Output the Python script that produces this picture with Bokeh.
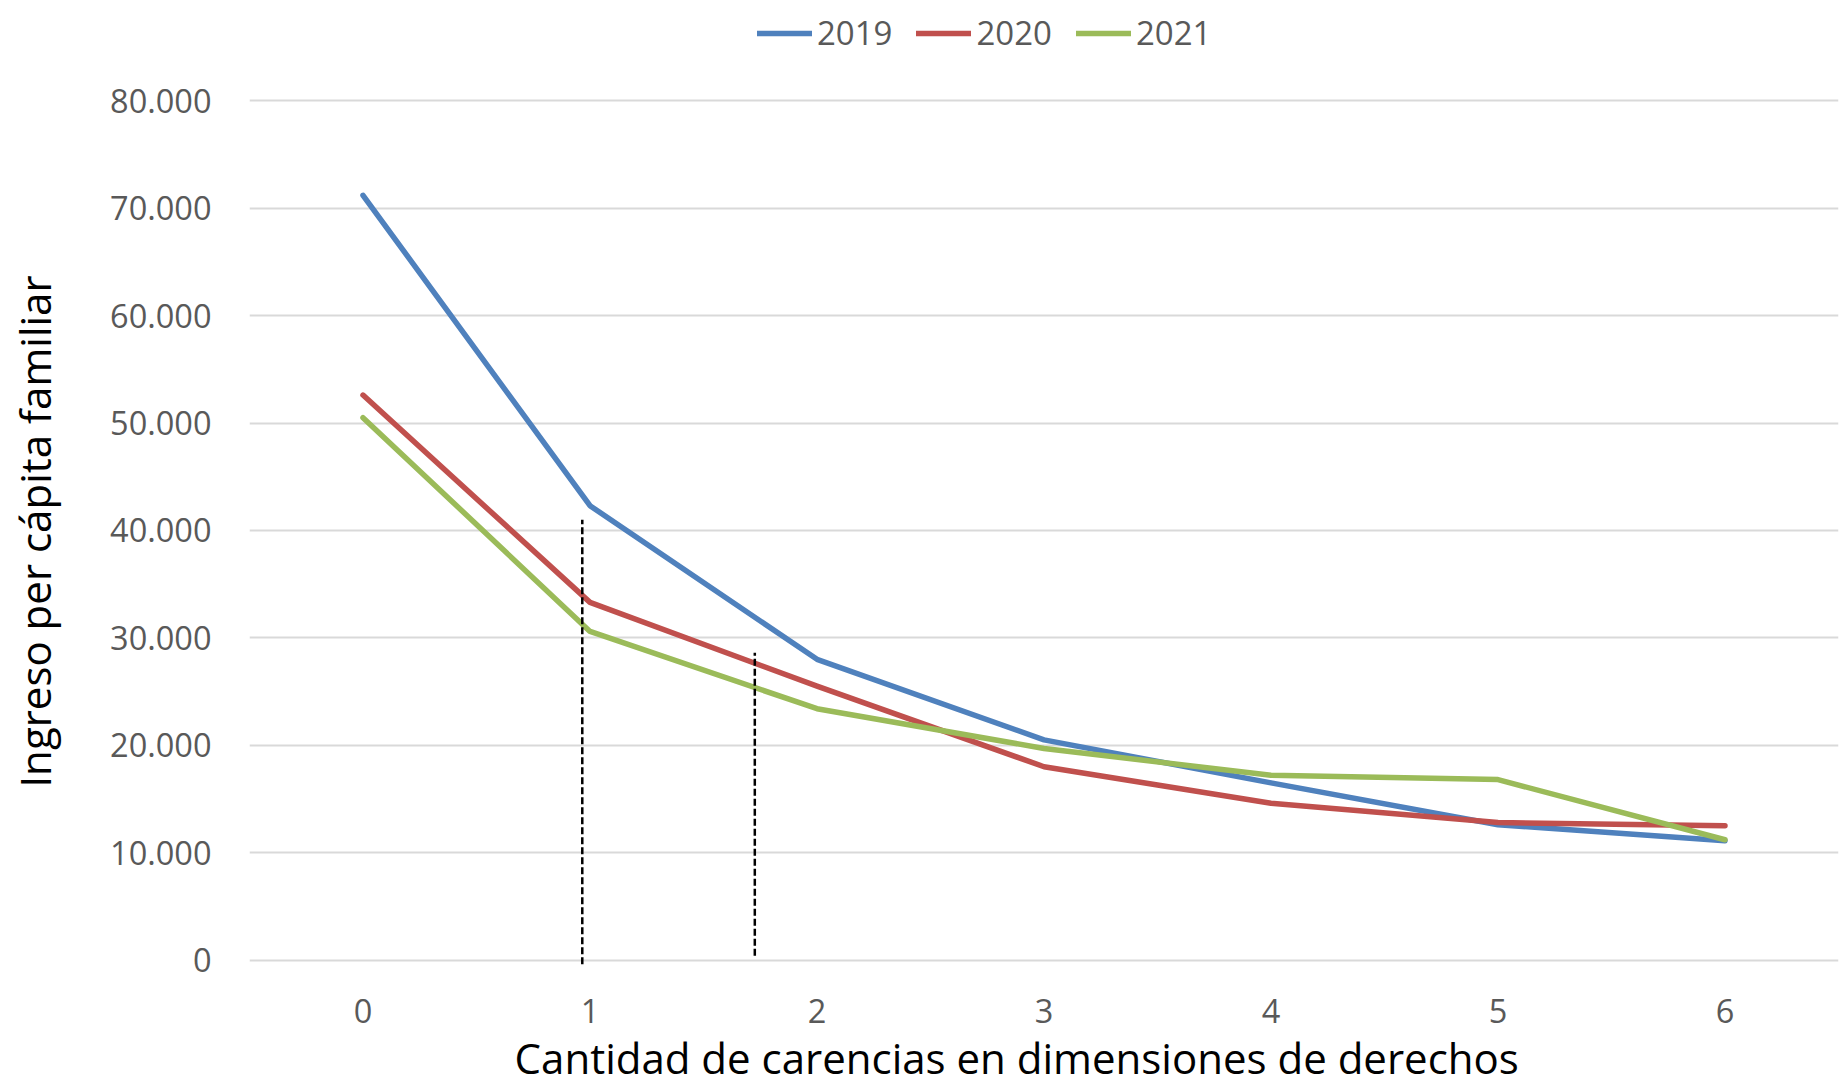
from bokeh.plotting import figure
from bokeh.layouts import column
from bokeh.models import Range1d, FixedTicker, Legend, LegendItem
from bokeh.embed import file_html
from bokeh.resources import INLINE

# ---- data ----
x_vals = [0, 1, 2, 3, 4, 5, 6]
x_labels = ["0", "1", "2", "3", "4", "5", "6"]
y2019 = [71200, 42300, 28000, 20500, 16500, 12600, 11100]
y2020 = [52600, 33300, 25500, 18000, 14600, 12800, 12500]
y2021 = [50500, 30600, 23400, 19700, 17200, 16800, 11200]
series_names = ["2019", "2020", "2021"]
y_ticks = [0, 10000, 20000, 30000, 40000, 50000, 60000, 70000, 80000]
y_tick_labels = ["0", "10.000", "20.000", "30.000", "40.000", "50.000", "60.000", "70.000", "80.000"]
# dashed reference lines
vline_x = [0.966, 1.726]
vline_y0 = [-400, 400]
vline_y1 = [41000, 28600]

x_title = "Cantidad de carencias en dimensiones de derechos"
y_title = "Ingreso per cápita familiar"

colors = ["#4F81BD", "#C0504D", "#9BBB59"]
FONT = "Open Sans"
GRAY = "#595959"
W = 1845
LEG_H = 60

# ---------- main chart ----------
p = figure(width=W, height=1088 - LEG_H, output_backend="svg", toolbar_location=None,
           x_range=Range1d(-0.5, 6.5), y_range=Range1d(-600, 80400),
           min_border_left=249, min_border_right=7, min_border_top=36, min_border_bottom=121)
p.outline_line_color = None
p.background_fill_color = "white"
p.border_fill_color = "white"

p.xgrid.grid_line_color = None
p.ygrid.grid_line_color = "#D9D9D9"
p.ygrid.grid_line_width = 2

p.yaxis.ticker = FixedTicker(ticks=y_ticks)
p.yaxis.major_label_overrides = {t: l for t, l in zip(y_ticks, y_tick_labels)}
p.xaxis.ticker = FixedTicker(ticks=x_vals)
p.xaxis.major_label_overrides = {t: l for t, l in zip(x_vals, x_labels)}

for ax in (p.xaxis, p.yaxis):
    ax.axis_line_color = None
    ax.major_tick_line_color = None
    ax.minor_tick_line_color = None
    ax.major_tick_out = 0
    ax.major_tick_in = 0
    ax.minor_tick_out = 0
    ax.major_label_text_font = FONT
    ax.major_label_text_font_size = "32.5px"
    ax.major_label_text_color = GRAY
    ax.axis_label_text_font = FONT
    ax.axis_label_text_font_size = "42px"
    ax.axis_label_text_font_style = "normal"
    ax.axis_label_text_color = "black"

p.yaxis.major_label_standoff = 38
p.xaxis.major_label_standoff = 32
p.yaxis.axis_label = y_title
p.xaxis.axis_label = x_title + "\u00a0" * 5
p.yaxis.axis_label_standoff = 44
p.xaxis.axis_label_standoff = 3

renderers = []
for ys, c in zip([y2019, y2020, y2021], colors):
    r = p.line(x_vals, ys, line_color=c, line_width=5.5, line_cap="round", line_join="round")
    renderers.append(r)

p.segment(x0=vline_x, y0=vline_y0, x1=vline_x, y1=vline_y1,
          line_color="black", line_width=2.5, line_dash="7 3")

# ---------- legend strip on top (same series, drawn outside its view range) ----------
lg = figure(width=W, height=LEG_H, output_backend="svg", toolbar_location=None,
            x_range=Range1d(0, 1), y_range=Range1d(0, 1),
            x_axis_type=None, y_axis_type=None,
            min_border_left=0, min_border_right=0, min_border_top=0, min_border_bottom=0)
lg.outline_line_color = None
lg.xgrid.visible = False
lg.ygrid.visible = False
leg_renderers = [lg.line(x_vals, ys, line_color=c, line_width=5.5, line_cap="round")
                 for ys, c in zip([y2019, y2020, y2021], colors)]

legend = Legend(items=[LegendItem(label=n, renderers=[r]) for n, r in zip(series_names, leg_renderers)],
                orientation="horizontal", location=(508, 5),
                glyph_width=55, glyph_height=38, label_height=38, label_standoff=5, spacing=24,
                padding=0, margin=0, border_line_color=None, background_fill_alpha=0,
                label_text_font=FONT, label_text_font_size="33px", label_text_color=GRAY)
lg.add_layout(legend, "center")

layout = column(lg, p, spacing=0)
open("out.html", "w").write(file_html(layout, INLINE))
